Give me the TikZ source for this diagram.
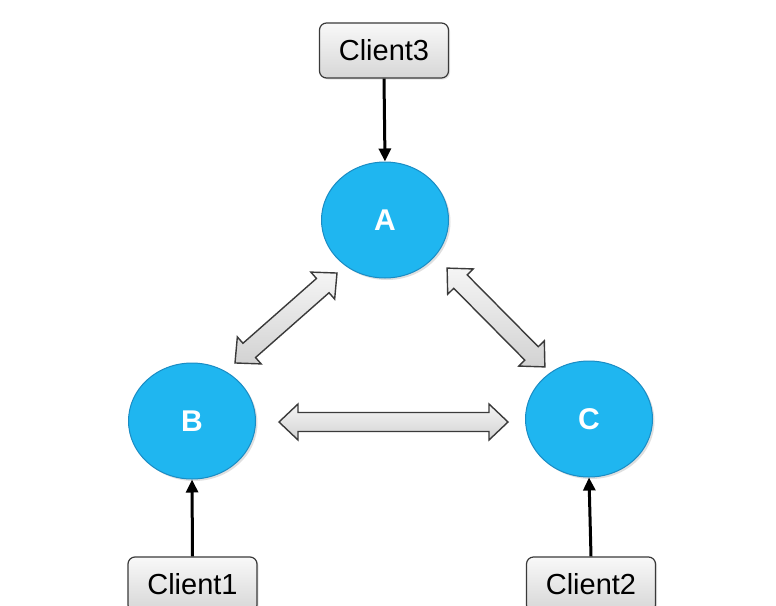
\documentclass[tikz,border=0pt]{standalone}
\usepackage{fontspec}
\setmainfont{Liberation Sans}
\usetikzlibrary{arrows.meta,shapes.geometric,shadows}
\definecolor{ballfill}{HTML}{1FB6F0}
\definecolor{balledge}{HTML}{1A8CC4}
\definecolor{boxedge}{HTML}{3A3A3A}
\begin{document}
\begin{tikzpicture}[x=1pt,y=-1pt,
  server/.style={ellipse,draw=balledge,line width=1pt,fill=ballfill,
    minimum width=127pt,minimum height=116pt,inner sep=0pt,
    text=white,font=\fontsize{30}{30}\selectfont\bfseries,
    drop shadow={opacity=0.25,shadow xshift=2pt,shadow yshift=-2pt}},
  client/.style={rectangle,rounded corners=7pt,draw=boxedge,line width=1.2pt,
    top color=gray!5,bottom color=gray!32,
    minimum width=129pt,minimum height=55pt,inner sep=0pt,
    font=\fontsize{29}{29}\selectfont,
    drop shadow={opacity=0.2,shadow xshift=1.5pt,shadow yshift=-1.5pt}},
  feed/.style={line width=3pt,-{Triangle[length=13pt,width=12pt]}},
  blockarrow/.style={draw=boxedge,line width=1.4pt,top color=gray!8,bottom color=gray!35,line join=miter}
]
\clip (0,0) rectangle (776,605);
\fill[white] (0,0) rectangle (776,605);

\node[server] (A) at (385,220) {A};
\node[server] (B) at (192,421) {B};
\node[server] (C) at (589,419) {C};

\node[client] (c3) at (384,50.5) {Client3};
\node[client] (c1) at (192.5,584.5) {Client1};
\node[client] (c2) at (591,584.5) {Client2};

\draw[feed] (c3.south) -- (A.north);
\draw[feed] (c1.north) -- (B.south);
\draw[feed] (c2.north) -- (C.south);

% double block arrows: centre, angle, half length
\newcommand{\dblblock}[4]{%
  \begin{scope}[shift={#1},rotate=#2]
    \path[blockarrow] (-#3,0) -- (-#3+19,18) -- (-#3+19,9.5) -- (#3-19,9.5) -- (#3-19,18)
      -- (#3,0) -- (#3-19,-18) -- (#3-19,-9.5) -- (-#3+19,-9.5) -- (-#3+19,-18) -- cycle;
    \coordinate (#4) at (0,0);
  \end{scope}}
\dblblock{(286,318)}{41.4}{68}{ab}
\dblblock{(496,317.5)}{-45.3}{69.5}{ac}
\dblblock{(393.5,422)}{0}{114.5}{bc}
\end{tikzpicture}
\end{document}
